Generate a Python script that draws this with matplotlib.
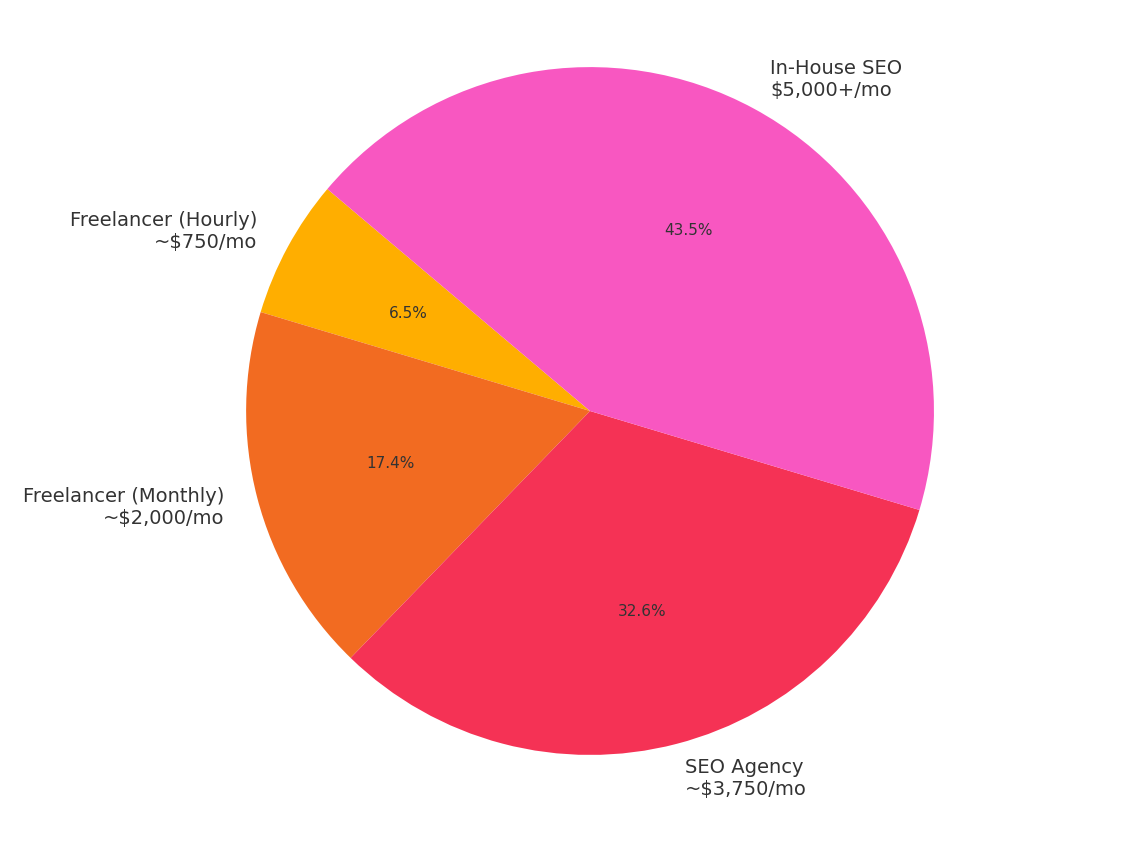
import matplotlib
matplotlib.use("Agg")
import matplotlib.pyplot as plt

labels = ["Freelancer (Hourly)\n~$750/mo", "Freelancer (Monthly)\n~$2,000/mo",
          "SEO Agency\n~$3,750/mo", "In-House SEO\n$5,000+/mo"]
values = [750, 2000, 3750, 5000]
colors = ["#FFAE00", "#F26B21", "#F53255", "#F857C1"]

fig = plt.figure(figsize=(11.45, 8.45), dpi=100)
ax = fig.add_axes([0, 0, 1, 1])
wedges, texts, autotexts = ax.pie(values, labels=labels, colors=colors,
                                  autopct="%1.1f%%", startangle=139.8,
                                  textprops={"color": "#333333", "fontsize": 14})
for t in autotexts:
    t.set_fontsize(11)
ax.set_aspect("equal")
ax.set_xlim(-1.715, 1.613)
ax.set_ylim(-1.259, 1.198)
ax.axis("off")
fig.savefig("out.png", dpi=100)
